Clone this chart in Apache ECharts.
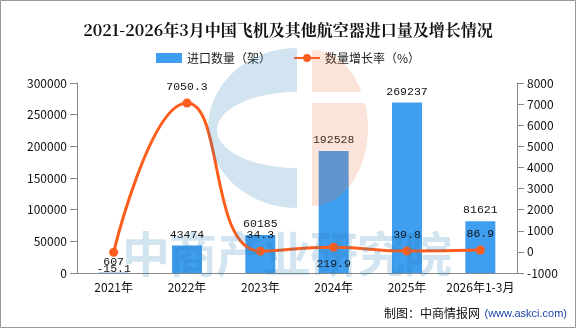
<!DOCTYPE html>
<html><head><meta charset="utf-8">
<script src="https://cdn.jsdelivr.net/npm/echarts@6/dist/echarts.min.js"></script>
<style>html,body{margin:0;padding:0;background:#fff}#c{width:576px;height:328px}</style>
</head><body><div id="c"></div>
<script>
var categories = ['2021年','2022年','2023年','2024年','2025年','2026年1-3月'];
var importCount = [607, 43474, 60185, 192528, 269237, 81621];
var growthRate = [-15.1, 7050.3, 34.3, 219.9, 39.8, 86.9];
var growthLabelPos = ['bottom','top','top','bottom','top','top'];
var leftTicks = {min:0, max:300000, interval:50000};
var rightTicks = {min:-1000, max:8000, interval:1000};

function halfEllipse(cx, cy, a, b, from, to, n){
  var pts=[];
  for(var i=0;i<=n;i++){var t=(from+(to-from)*i/n)*Math.PI/180;pts.push([cx+a*Math.cos(t), cy-b*Math.sin(t)]);}
  return pts;
}
var cOuter = halfEllipse(297,128,89,80,90,270,40);
var cInner = halfEllipse(297,130,80,38,270,90,40);
var cShape = cOuter.concat(cInner);
var pinkShape = halfEllipse(312,128,56,78,-90,90,40);
var wmChars = '中商产业研究院'.split('');
var wmText = wmChars.map(function(ch,i){
  return {type:'text', z:100, left:122+i*47, top:230, silent:true,
    style:{text:ch, font:'bold 48px "Noto Sans CJK SC"', fill:'rgba(30,120,175,0.2)'}};
});

var chart = echarts.init(document.getElementById('c'));
var lbl = {fontFamily:'"Noto Sans CJK SC"', fontSize:12, color:'#111'};
var plain = function(v){return String(v);};
chart.setOption({
  animation:false,
  title:{text:'2021-2026年3月中国飞机及其他航空器进口量及增长情况', left:'center', top:17,
    textStyle:{fontSize:16, fontWeight:'bold', color:'#111', fontFamily:'"Noto Serif CJK SC","Noto Sans CJK SC",serif'}},
  legend:{top:47, left:'center', itemGap:22, itemWidth:26, itemHeight:10,
    textStyle:{fontSize:12, color:'#222', fontFamily:'"Noto Sans CJK SC"'},
    data:[{name:'进口数量（架）', icon:'rect'},{name:'数量增长率（%）'}]},
  grid:{left:77, right:59, top:83, bottom:55},
  xAxis:{type:'category', data:categories,
    axisLine:{lineStyle:{color:'#888'}}, axisTick:{length:5, lineStyle:{color:'#888'}},
    axisLabel:Object.assign({margin:8, interval:0}, lbl)},
  yAxis:[
    {type:'value', min:leftTicks.min, max:leftTicks.max, interval:leftTicks.interval,
     axisLine:{show:true, lineStyle:{color:'#888'}}, axisTick:{show:true, length:7, lineStyle:{color:'#888'}},
     splitLine:{show:false}, axisLabel:Object.assign({margin:10, formatter:plain}, lbl)},
    {type:'value', min:rightTicks.min, max:rightTicks.max, interval:rightTicks.interval,
     axisLine:{show:true, lineStyle:{color:'#888'}}, axisTick:{show:true, length:7, lineStyle:{color:'#888'}},
     splitLine:{show:false}, axisLabel:Object.assign({margin:10, formatter:plain}, lbl)}
  ],
  series:[
    {name:'进口数量（架）', type:'bar', data:importCount, barWidth:30, itemStyle:{color:'#409ef0'},
     label:{show:true, position:'top', distance:5, fontFamily:'"Liberation Mono",monospace', fontSize:11.5, color:'#111'}},
    {name:'数量增长率（%）', type:'line', yAxisIndex:1, smooth:true, symbol:'circle', symbolSize:9,
     itemStyle:{color:'#fd5e1e'}, lineStyle:{color:'#fd5e1e', width:3},
     data:growthRate.map(function(v,i){return {value:v, label:{position:growthLabelPos[i]}};}),
     label:{show:true, distance:6, fontFamily:'"Liberation Mono",monospace', fontSize:11.5, color:'#111'}}
  ],
  graphic:[
    {type:'polygon', z:100, silent:true, shape:{points:cShape}, style:{fill:'rgba(30,120,175,0.2)'}},
    {type:'polygon', z:100, silent:true, shape:{points:pinkShape}, style:{fill:'rgba(236,114,65,0.2)'}},
    {type:'rect', z:101, silent:true, shape:{x:312, y:92, width:60, height:11}, style:{fill:'#fff'}}
  ].concat(wmText).concat([
    {type:'text', right:96, top:307, style:{text:'制图：中商情报网', font:'12px "Noto Sans CJK SC"', fill:'#111'}},
    {type:'text', right:9, top:308, style:{text:'(www.askci.com)', font:'11px "Liberation Sans"', fill:'#1f45a8'}},
    {type:'rect', silent:true, z:200, shape:{x:0.5, y:0.5, width:575, height:327}, style:{fill:'none', stroke:'#999', lineWidth:1}}
  ])
});
</script></body></html>
